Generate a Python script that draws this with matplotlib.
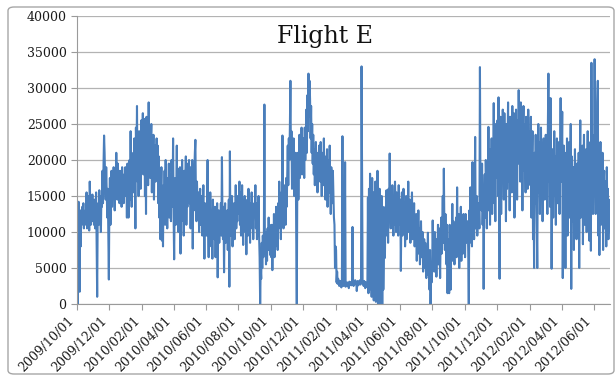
import numpy as np
import pandas as pd
import matplotlib
matplotlib.use('Agg')
import matplotlib.pyplot as plt
import matplotlib.dates as mdates
from matplotlib.patches import FancyBboxPatch

# daily passengers, Flight E, 2009/10/01 - 2012/06/30 (one list per month)
oct09 = [7000, 0, 13000, 14200, 12000, 1700, 13000, 8000, 12500, 11000, 13500, 12000, 14000, 10500, 12500, 11000,
         13000, 12000, 15500, 10500, 11000, 13000, 15000, 10200, 17000, 14000, 11000, 13500, 12200, 15200, 11500]
nov09 = [13000, 11000, 14500, 10500, 12000, 15500, 8000, 1000, 12500, 14000, 11000, 15800, 13000, 12000, 10000,
         15000, 13500, 18500, 14000, 19500, 23400, 21000, 17000, 14500, 19000, 15500, 12000, 16000, 10000, 3400]
dec09 = [14000, 17500, 11000, 16000, 18500, 13500, 17000, 15000, 19000, 16500, 13000, 18000, 15500, 21000, 17000,
         14500, 19500, 16000, 18500, 14000, 17000, 15500, 18500, 13500, 19000, 16500, 17500, 14000, 18000, 16000, 19000]
jan10 = [15000, 18000, 12000, 19500, 16500, 12000, 17500, 20000, 14500, 24000, 16000, 13500, 19000, 17000, 21000,
         15500, 23000, 18500, 10500, 24500, 19000, 27500, 17000, 22000, 15000, 24000, 19500, 21500, 16000, 25500, 20000]
feb10 = [21000, 26500, 18000, 24000, 25700, 15000, 22000, 12500, 26000, 19000, 23500, 16500, 28000, 20000, 24000,
         17500, 22500, 25000, 15500, 21000, 18000, 23500, 14500, 20000, 22000, 17000, 19500, 23000]
mar10 = [18000, 22000, 14000, 20500, 12000, 17500, 9000, 15000, 19000, 8800, 14000, 8000, 16500, 12500, 18500,
         11000, 20000, 13000, 16000, 10500, 17500, 14500, 19500, 12000, 15500, 18000, 11500, 20000, 16000, 13500, 23000]
apr10 = [12000, 6200, 14500, 17500, 11000, 15500, 22000, 12500, 18800, 10000, 16000, 13000, 19000, 7000, 15000,
         11500, 20000, 14000, 17000, 9500, 18500, 12000, 16500, 20500, 11000, 17000, 13500, 19500, 15000, 20000]
may10 = [14000, 19000, 10500, 17500, 12000, 20000, 7700, 16500, 13000, 18500, 21000, 22800, 15000, 11500, 17000,
         13500, 12000, 15500, 10000, 14500, 16000, 11000, 13000, 15000, 9500, 13500, 16500, 12000, 6300, 14000, 11500]
jun10 = [12000, 9500, 14000, 20000, 11000, 6500, 13500, 10500, 15500, 12500, 8000, 13000, 6300, 14500, 11000,
         12500, 9000, 13500, 6500, 12000, 10000, 14000, 3700, 11500, 13000, 8500, 12500, 10500, 14000, 9500]
jul10 = [20400, 12000, 9000, 13500, 4400, 11000, 14000, 8500, 12500, 10000, 13000, 7500, 11500, 14500, 2400,
         21200, 9500, 13000, 11000, 15000, 8000, 12500, 10500, 14000, 9000, 12000, 16500, 10500, 13500, 11500, 15000]
aug10 = [12500, 14500, 17000, 11000, 15500, 9500, 13000, 16500, 12000, 8200, 14000, 11500, 15000, 10000, 13500,
         6900, 12500, 14500, 9500, 16000, 11000, 13000, 8500, 14000, 12000, 15500, 10500, 13500, 9000, 12500, 14000]
sep10 = [13000, 16500, 10500, 14000, 9000, 12500, 11000, 15000, 9500, 6500, 0, 5000, 3500, 8500, 5000,
         9500, 6500, 9000, 27700, 7000, 10000, 5500, 9000, 6000, 10500, 7500, 12000, 8000, 11000, 6800]
oct10 = [9500, 6500, 11000, 4700, 10000, 7000, 12500, 6500, 11500, 8000, 13500, 9500, 12000, 7500, 14000,
         10500, 17000, 11500, 13000, 9000, 15500, 12500, 23400, 14000, 10500, 16500, 12000, 15000, 11000, 17500, 13500]
nov10 = [18000, 22000, 16500, 23000, 20000, 24500, 31000, 20500, 24000, 16000, 21500, 18500, 23000, 15000, 19000,
         17500, 21000, 9000, 0, 17000, 21000, 14500, 20000, 23500, 17500, 22000, 19000, 24500, 18000, 21000]
dec10 = [19000, 23000, 17500, 24500, 20000, 22500, 27000, 21000, 29000, 24000, 32000, 26000, 31000, 28500, 23000,
         27500, 21000, 25000, 19500, 23500, 18000, 21500, 16500, 20500, 22500, 17000, 21000, 15500, 19500, 18000, 22000]
jan11 = [20000, 17000, 22500, 18500, 15000, 21000, 19000, 16500, 23000, 18000, 20500, 14500, 19500, 17500, 21500,
         13500, 18000, 20000, 15500, 22000, 16500, 12500, 19000, 17000, 14000, 18500, 15500, 12000, 11000, 5000, 8000]
feb11 = [7500, 3000, 4500, 2800, 3500, 3000, 2500, 2800, 3200, 2600, 2300, 2900, 23300, 3000, 2500,
         2800, 3200, 19700, 2400, 2900, 2700, 3000, 2500, 2800, 2200, 3100, 2600, 2900]
mar11 = [3000, 2600, 3200, 10700, 2800, 2500, 3000, 2700, 3300, 2900, 3100, 1800, 2800, 3200, 2600,
         3000, 2900, 3300, 2700, 3100, 33000, 17000, 3000, 2800, 2500, 3200, 2700, 2200, 3000, 2600, 2400]
apr11 = [2500, 14800, 1500, 16000, 2000, 18100, 3000, 11000, 1000, 17500, 2200, 15500, 500, 13000, 1500,
         17000, 300, 12500, 800, 18500, 0, 14000, 1200, 16000, 0, 11500, 500, 15000, 0, 13500]
may11 = [2000, 7500, 12000, 6400, 13500, 9500, 15800, 11000, 14000, 8500, 16000, 12500, 20900, 13000, 10500,
         15000, 11500, 16500, 12000, 9500, 14500, 11000, 17000, 13500, 10000, 15500, 12000, 14000, 9500, 16500, 12500]
jun11 = [11000, 14500, 4600, 12000, 15500, 9500, 13000, 16000, 10500, 14000, 8000, 12500, 15000, 9000, 13500,
         11000, 17000, 10000, 12500, 14500, 8500, 13000, 11500, 15500, 9000, 12000, 10500, 14000, 8000, 11500]
jul11 = [9500, 12500, 6000, 11000, 8500, 13000, 7000, 10500, 5500, 9000, 11500, 6500, 8000, 10000, 4500,
         7500, 9000, 5000, 8500, 6500, 3600, 7000, 5500, 9900, 4000, 6500, 2000, 7500, 0, 5000, 3000]
aug11 = [5000, 11600, 7000, 9500, 4500, 10000, 6000, 8500, 3800, 9000, 7500, 11000, 5500, 10500, 8000,
         3600, 9500, 12000, 7000, 10500, 15000, 8500, 18800, 11000, 7500, 12500, 9000, 5500, 11000, 1500, 8500]
sep11 = [9000, 1500, 11000, 6500, 2000, 10500, 8000, 13900, 6000, 11500, 7500, 5500, 10000, 8500, 12000,
         6500, 16200, 9500, 7000, 12500, 5000, 10000, 8000, 13500, 6000, 11000, 9000, 7000, 12500, 8500]
oct11 = [10000, 6500, 12500, 8500, 11000, 9500, 11500, 7000, 0, 13000, 8500, 16200, 10500, 12000, 8000,
         19700, 11000, 14500, 9000, 13000, 23200, 10500, 12500, 15000, 9500, 13500, 11000, 14000, 10500, 32900, 15500]
nov11 = [17000, 13000, 19500, 11000, 15500, 2100, 14000, 18000, 12000, 20000, 16500, 10500, 19000, 14500, 24600,
         13000, 21500, 11000, 18500, 15000, 23000, 12500, 19500, 16000, 27900, 14000, 21000, 11500, 25000, 17500]
dec11 = [21000, 25500, 15000, 28700, 18000, 3500, 22000, 26000, 12500, 24500, 17500, 27000, 20000, 14500, 26500,
         19000, 23500, 11500, 25000, 16000, 21500, 28000, 17000, 23000, 13000, 26000, 19500, 24000, 15500, 27500, 20500]
jan12 = [20000, 26500, 12000, 24000, 18000, 27000, 21500, 14500, 25500, 19500, 29700, 22000, 26000, 17000, 28000,
         20500, 24500, 13000, 23000, 27500, 18500, 25000, 21000, 15500, 26000, 19000, 23500, 16000, 27000, 20000, 24000]
feb12 = [22000, 16500, 26000, 12000, 19500, 24000, 9000, 18000, 5000, 21000, 14000, 23500, 17500, 10500, 5000,
         20000, 25000, 15500, 22500, 12500, 19000, 24500, 16000, 21000, 11500, 18500, 23000, 14500, 20000]
mar12 = [18000, 23500, 14500, 21000, 12500, 25000, 32000, 17000, 22000, 13500, 28600, 19500, 4900, 16500, 21500,
         12000, 19000, 24000, 15000, 20500, 11000, 18500, 23000, 14000, 20000, 16500, 22500, 12500, 19500, 28600, 17000]
apr12 = [20000, 26700, 3600, 15500, 22000, 10500, 18500, 5000, 21000, 14000, 23000, 9500, 19500, 16000, 22500,
         12000, 17500, 25000, 2100, 20500, 15000, 11500, 19000, 7500, 16500, 21500, 13000, 18000, 9000, 19500]
may12 = [17000, 13000, 21000, 5000, 18500, 25500, 12000, 20000, 15500, 22000, 8300, 17500, 23500, 11000, 19000,
         14500, 21500, 10000, 18000, 24000, 13000, 20500, 8800, 16500, 22500, 7400, 33500, 15000, 23500, 12500, 22000]
jun12 = [18000, 34000, 21000, 12500, 26000, 16000, 28000, 31000, 9500, 20000, 6800, 17500, 22500, 11000, 19000,
         15000, 21000, 7500, 16500, 18500, 10500, 17000, 14000, 8000, 19000, 12500, 16000, 9000, 14500, 10000]

months = [oct09, nov09, dec09, jan10, feb10, mar10, apr10, may10, jun10, jul10, aug10, sep10, oct10, nov10, dec10,
          jan11, feb11, mar11, apr11, may11, jun11, jul11, aug11, sep11, oct11, nov11, dec11,
          jan12, feb12, mar12, apr12, may12, jun12]
values = np.concatenate(months)
dates = pd.date_range('2009-10-01', periods=len(values), freq='D')

serif = 'DejaVu Serif'

fig = plt.figure(figsize=(6.16, 3.76), dpi=100)
fig.patches.append(FancyBboxPatch((8 / 616, 2 / 376), 606 / 616, 367 / 376,
                                  boxstyle='round,pad=0,rounding_size=0.01',
                                  transform=fig.transFigure, fc='none', ec='#a6a6a6', lw=1.0))
ax = fig.add_axes([77 / 616, 1 - 304 / 376, 533 / 616, 288 / 376])

ax.plot(dates, values, color='#4a7ebb', lw=1.5)

ax.set_ylim(0, 40000)
ax.set_yticks(np.arange(0, 40001, 5000))
ax.set_xlim(dates[0], dates[-1] + pd.Timedelta(days=1))
ax.xaxis.set_major_locator(mdates.MonthLocator(bymonth=[2, 4, 6, 8, 10, 12], bymonthday=1))
ax.xaxis.set_major_formatter(mdates.DateFormatter('%Y/%m/%d'))

ax.grid(axis='y', color='#b3b3b3', lw=0.9)
ax.set_axisbelow(True)
for s in ['top', 'right']:
    ax.spines[s].set_visible(False)
for s in ['left', 'bottom']:
    ax.spines[s].set_color('#9a9a9a')
ax.tick_params(axis='both', colors='#9a9a9a', length=4, labelcolor='#1a1a1a', labelsize=9)
for lab in ax.get_xticklabels():
    lab.set_rotation(45)
    lab.set_ha('right')
    lab.set_fontfamily(serif)
for lab in ax.get_yticklabels():
    lab.set_fontfamily(serif)

fig.text(325 / 616, 1 - 37 / 376, 'Flight E', fontsize=17, family=serif, ha='center', va='center', color='#111111')

fig.savefig('out.png', dpi=100)
